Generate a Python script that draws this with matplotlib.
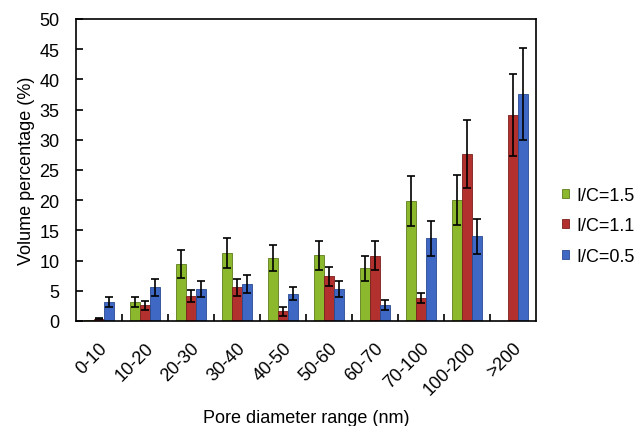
import matplotlib
matplotlib.use("Agg")
import matplotlib.pyplot as plt
import matplotlib.transforms as mtransforms
import numpy as np

plt.rcParams['font.family'] = ['Liberation Sans', 'DejaVu Sans']

categories = ["0-10", "10-20", "20-30", "30-40", "40-50", "50-60", "60-70", "70-100", "100-200", ">200"]
series_labels = ["I/C=1.5", "I/C=1.1", "I/C=0.5"]
ic15 = [0.1, 3.2, 9.5, 11.2, 10.4, 10.9, 8.7, 19.9, 20.0, 0.0]
ic11 = [0.4, 2.6, 4.2, 5.6, 1.6, 7.4, 10.8, 3.8, 27.7, 34.1]
ic05 = [3.2, 5.6, 5.3, 6.1, 4.5, 5.3, 2.6, 13.7, 14.0, 37.6]
err15 = [0.0, 0.8, 2.3, 2.5, 2.2, 2.4, 2.0, 4.1, 4.1, 0.0]
err11 = [0.1, 0.7, 1.0, 1.4, 0.7, 1.6, 2.4, 0.8, 5.6, 6.8]
err05 = [0.8, 1.4, 1.3, 1.5, 1.1, 1.3, 0.8, 2.9, 2.9, 7.6]

colors = ["#8cb82e", "#b2302e", "#3e68c4"]
edges = ["#5e7d1c", "#7a1f1d", "#284a91"]

fig = plt.figure(figsize=(6.43, 4.27), dpi=100)
ax = fig.add_axes([76/643, 1 - 322/427, 460/643, 302/427])

x = np.arange(len(categories))
w = 0.22
for i, (vals, errs) in enumerate([(ic15, err15), (ic11, err11), (ic05, err05)]):
    pos = x + (i - 1) * w
    ax.bar(pos, vals, width=w, color=colors[i], edgecolor=edges[i], linewidth=0.6,
           label=series_labels[i], zorder=2)
    show = [e > 0 for e in errs]
    ax.errorbar(pos[show], np.array(vals)[show], yerr=np.array(errs)[show], fmt='none',
                ecolor='black', elinewidth=1.2, capsize=3, capthick=1.2, zorder=3)

ax.set_xlim(-0.5, len(categories) - 0.5)
ax.set_ylim(0, 50)
ax.set_yticks(range(0, 51, 5))
ax.set_xticks(x)
ax.set_xticklabels(categories, rotation=45, ha='right', rotation_mode='anchor', fontsize=13)
offset = mtransforms.ScaledTranslation(-6/100, 0, fig.dpi_scale_trans)
for lbl in ax.get_xticklabels():
    lbl.set_transform(lbl.get_transform() + offset)
ax.tick_params(axis='x', length=0, pad=13)
ax.set_xticks(np.arange(0.5, len(categories) - 0.5, 1), minor=True)
ax.tick_params(axis='x', which='minor', direction='in', length=5, width=1.2)
ax.tick_params(axis='y', direction='in', length=5, width=1.2, labelsize=13, pad=12)
for s in ax.spines.values():
    s.set_linewidth(1.2)
ax.set_ylabel("Volume percentage (%)", fontsize=13, labelpad=3)
ax.set_xlabel("Pore diameter range (nm)", fontsize=13, labelpad=8)

ax.legend(loc='center left', bbox_to_anchor=(1.04, 0.315), frameon=False, fontsize=13,
          borderaxespad=0, handlelength=0.4, handleheight=0.4, handletextpad=0.4,
          labelspacing=0.75)

fig.savefig("out.png", dpi=100)
